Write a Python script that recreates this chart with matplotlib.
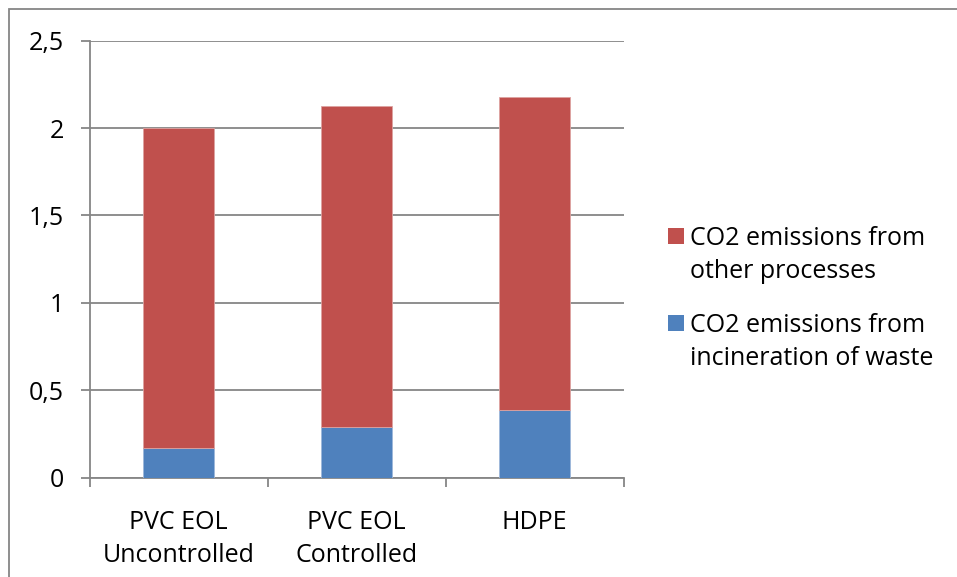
import matplotlib
matplotlib.use("Agg")
import matplotlib.pyplot as plt
from matplotlib.patches import Rectangle
from matplotlib.ticker import FixedLocator, FuncFormatter, NullFormatter

plt.rcParams['font.family'] = ['Open Sans', 'DejaVu Sans']

categories = ["PVC EOL\nUncontrolled", "PVC EOL\nControlled", "HDPE"]
incineration = [0.17, 0.29, 0.39]
other_processes = [1.83, 1.835, 1.79]
series_labels = ["CO2 emissions from\nother processes",
                 "CO2 emissions from\nincineration of waste"]
y_ticks = [0, 0.5, 1.0, 1.5, 2.0, 2.5]

RED = "#C0504D"
BLUE = "#4F81BD"
GRID = "#868686"
FS = 18

fig = plt.figure(figsize=(9.57, 5.77), dpi=100)
ax = fig.add_axes([89.5 / 957, 1 - 477.7 / 577, (623.7 - 89.5) / 957, (477.7 - 40.7) / 577])

x = list(range(len(categories)))
ax.bar(x, incineration, width=0.4, color=BLUE, edgecolor="#9DB7DA", linewidth=0.6, zorder=3)
ax.bar(x, other_processes, width=0.4, bottom=incineration, color=RED,
       edgecolor="#DDA3A1", linewidth=0.6, zorder=3)

ax.set_xlim(-0.5, len(categories) - 0.5)
ax.set_ylim(0, 2.5)

ax.yaxis.set_major_locator(FixedLocator(y_ticks))
ax.yaxis.set_major_formatter(FuncFormatter(lambda v, p: f"{v:g}".replace(".", ",")))
ax.grid(axis="y", color=GRID, linewidth=1.3, zorder=0)
ax.tick_params(axis="y", length=6.5, width=1.3, color=GRID, pad=12, labelsize=FS)

ax.set_xticks(x)
ax.set_xticklabels(categories, fontsize=FS, linespacing=1.42)
ax.tick_params(axis="x", which="major", length=0, pad=23)
ax.xaxis.set_minor_locator(FixedLocator([i - 0.5 for i in range(len(categories) + 1)]))
ax.xaxis.set_minor_formatter(NullFormatter())
ax.tick_params(axis="x", which="minor", length=6.5, width=1.3, color=GRID)

for side in ("top", "right"):
    ax.spines[side].set_visible(False)
for side in ("left", "bottom"):
    ax.spines[side].set_color(GRID)
    ax.spines[side].set_linewidth(1.3)

# legend drawn by hand so each swatch sits beside the first line of its label
W, H = 957, 577
legend_rows = [(RED, series_labels[0], 236), (BLUE, series_labels[1], 323)]
for color, label, yc in legend_rows:
    fig.add_artist(Rectangle((667.5 / W, 1 - (yc + 8) / H), 16 / W, 16 / H,
                             transform=fig.transFigure, facecolor=color, edgecolor="none"))
    fig.text(689.5 / W, 1 - (yc - 10) / H, label, fontsize=FS, va="top", ha="left",
             linespacing=1.42)

# outer chart frame
fig.add_artist(Rectangle((9 / W, -0.05), 1.2, 1 - 9 / H + 0.05,
                         transform=fig.transFigure, facecolor="none",
                         edgecolor=GRID, linewidth=1.3))

fig.savefig("out.png", dpi=100)
